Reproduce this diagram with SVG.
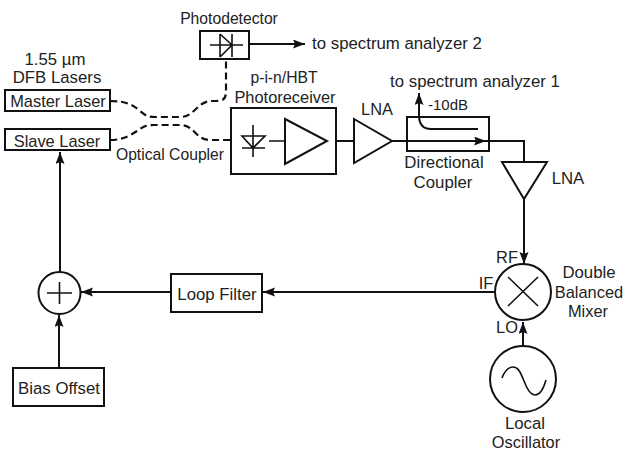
<svg xmlns="http://www.w3.org/2000/svg" width="626" height="452" viewBox="0 0 626 452">
<style>
text{font-family:"Liberation Sans",Arial,sans-serif;font-size:16.8px;fill:#222;text-anchor:middle}
.n{font-size:15.7px}
.m{font-size:16.4px}
.s{fill:none;stroke:#111;stroke-width:2}
.t{fill:none;stroke:#111;stroke-width:1.6}
.d{fill:none;stroke:#111;stroke-width:2.2;stroke-dasharray:7 4}
.h{fill:#111;stroke:none}
</style>
<defs><marker id="a" markerUnits="userSpaceOnUse" markerWidth="13" markerHeight="10" refX="12" refY="4.5" orient="auto"><path class="h" d="M0 0L12 4.5L0 9L2 4.5Z"/></marker></defs>
<rect width="626" height="452" fill="#fff"/>
<g id="connectors">
<path class="d" d="M110 101C125 101 132 104 140 111C146 116 148 117 155 117H180C195 117 197 101 212 101C224 101 226 100 226 90V59"/>
<path class="d" d="M110 140C125 140 132 134 140 129C146 125 148 125 155 125H180C195 125 195 140 210 140H231"/>
<path class="s" d="M249 44H305" marker-end="url(#a)"/>
<path class="s" d="M336 141H354"/>
<path class="s" d="M392 141H486" marker-end="url(#a)"/>
<path class="s" d="M478 129H431C423 129 419 124 419 115V93" marker-end="url(#a)"/>
<path class="s" d="M486 141H524V162"/>
<path class="s" d="M524 199V264" marker-end="url(#a)"/>
<path class="s" d="M523 346V322" marker-end="url(#a)"/>
<path class="s" d="M495 292H263" marker-end="url(#a)"/>
<path class="s" d="M171 292H81" marker-end="url(#a)"/>
<path class="s" d="M59 368V315" marker-end="url(#a)"/>
<path class="s" d="M60 272V152" marker-end="url(#a)"/>
</g>
<g id="lasers-label"><text x="55" y="65">1.55 µm</text><text x="57" y="83">DFB Lasers</text></g>
<g id="master-laser"><rect class="s" x="5" y="90" width="105" height="21"/><text class="m" x="58" y="107">Master Laser</text></g>
<g id="slave-laser"><rect class="s" x="5" y="129" width="105" height="21"/><text class="m" x="57" y="147">Slave Laser</text></g>
<g id="optical-coupler"><text class="n" x="170" y="160">Optical Coupler</text></g>
<g id="photodetector"><text class="n" x="229" y="24">Photodetector</text><rect class="s" x="200" y="31" width="49" height="28"/><path class="t" d="M210 45H243M220 34V57M220 34L232 45L220 57M232 34V57"/></g>
<g id="photoreceiver"><text class="n" x="284" y="83">p-i-n/HBT</text><text class="m" x="285" y="103">Photoreceiver</text><rect class="s" x="231" y="108" width="105" height="66"/><path class="t" d="M253 125V157M242 136H265L253 148ZM242 148H265M269 141H285"/><path class="s" d="M285 119L327 141L285 164Z"/></g>
<g id="lna-1"><text class="m" x="377" y="115">LNA</text><path class="s" d="M354 119L392 141L354 163Z"/></g>
<g id="directional-coupler"><rect class="s" x="407" y="117" width="82" height="34"/><text class="n" x="448" y="110" style="font-size:15px">-10dB</text><text x="444" y="168">Directional</text><text x="443" y="188">Coupler</text></g>
<g id="spectrum-1"><text x="475" y="87">to spectrum analyzer 1</text></g>
<g id="spectrum-2"><text x="397" y="49">to spectrum analyzer 2</text></g>
<g id="lna-2"><path class="s" d="M502 162H547L524 199Z"/><text x="568" y="184">LNA</text></g>
<g id="mixer"><circle class="s" cx="523" cy="292" r="28"/><path class="t" d="M508 277L538 306M538 277L508 306"/><text class="m" x="507" y="263">RF</text><text class="m" x="486" y="289">IF</text><text class="m" x="507" y="333">LO</text><text x="589" y="278">Double</text><text class="m" x="589" y="298">Balanced</text><text class="m" x="588" y="317">Mixer</text></g>
<g id="local-oscillator"><circle class="s" cx="523" cy="379" r="33"/><path class="t" d="M502 378C505 370 509 367 513 367C519 367 521 374 524 381C527 389 531 395 535 395C540 395 544 387 546 380"/><text x="525" y="429">Local</text><text class="m" x="526" y="448">Oscillator</text></g>
<g id="loop-filter"><rect class="s" x="171" y="274" width="91" height="38"/><text x="217" y="300">Loop Filter</text></g>
<g id="summer"><circle class="s" cx="59.5" cy="293" r="21"/><path class="t" d="M47 293H72M59.500 282V304"/></g>
<g id="bias-offset"><rect class="s" x="13" y="368" width="91" height="38"/><text x="59" y="394">Bias Offset</text></g>
</svg>
